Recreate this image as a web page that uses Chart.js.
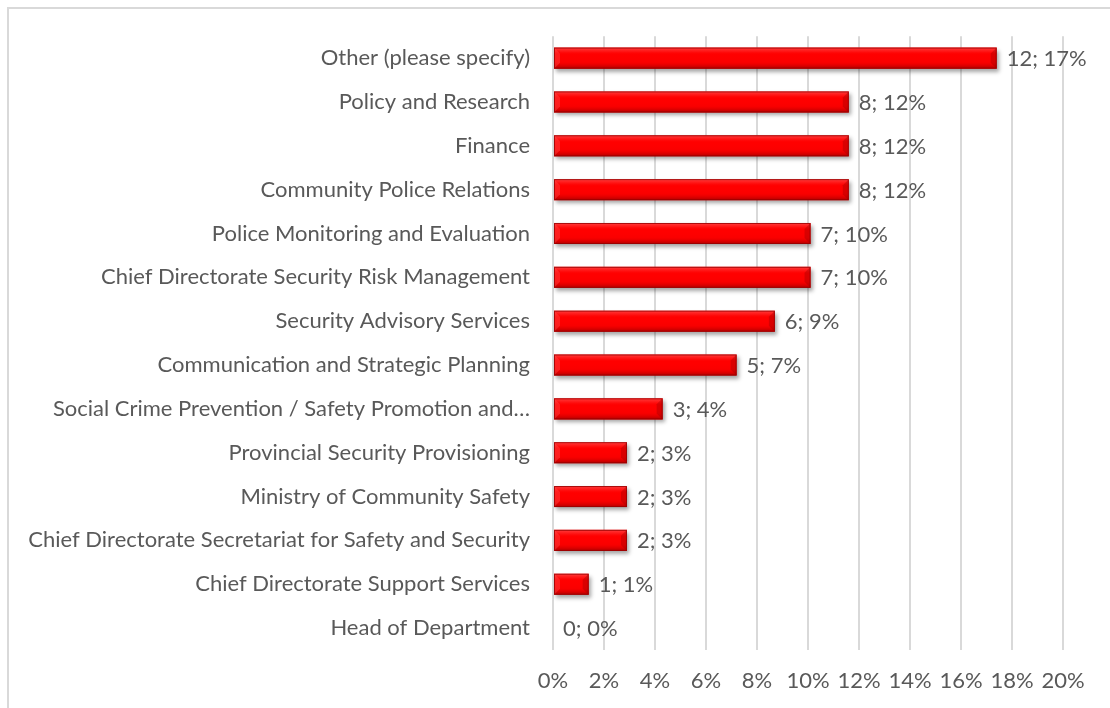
<!DOCTYPE html>
<html>
<head>
<meta charset="utf-8">
<script src="https://cdn.jsdelivr.net/npm/chart.js@4/dist/chart.umd.min.js"></script>
<style>
  html, body { margin: 0; padding: 0; background: #fff; overflow: hidden; }
  #wrap { position: relative; width: 1110px; height: 708px; }
  /* chart frame: only top and left edges fall inside the page */
  #frame { position: absolute; left: 7px; top: 7px; width: 1200px; height: 800px;
           border-top: 2px solid #d9d9d9; border-left: 2px solid #d9d9d9; }
  canvas { position: absolute; left: 0; top: 0; }
</style>
</head>
<body>
<div id="wrap">
  <div id="frame"></div>
  <canvas id="chart" width="1110" height="708"></canvas>
</div>
<script>
// Departments, top to bottom
const departments = [
  "Other (please specify)",
  "Policy and Research",
  "Finance",
  "Community Police Relations",
  "Police Monitoring and Evaluation",
  "Chief Directorate Security Risk Management",
  "Security Advisory Services",
  "Communication and Strategic Planning",
  "Social Crime Prevention / Safety Promotion and…",
  "Provincial Security Provisioning",
  "Ministry of Community Safety",
  "Chief Directorate Secretariat for Safety and Security",
  "Chief Directorate Support Services",
  "Head of Department"
];

// Number of respondents per department
const counts = [12, 8, 8, 8, 7, 7, 6, 5, 3, 2, 2, 2, 1, 0];

// Share of respondents (%)
const shares = [17.4, 11.6, 11.6, 11.6, 10.1, 10.1, 8.7, 7.2, 4.3, 2.9, 2.9, 2.9, 1.4, 0];

const xTicks = [0, 2, 4, 6, 8, 10, 12, 14, 16, 18, 20];

const FONT = "Lato, 'Open Sans', sans-serif";
const FONT_SIZE = 22;
const TEXT = "#595959";

// Glossy look for the bars: drop shadow under, highlight/shade gradient on top
const barShine = {
  id: "barShine",
  beforeDatasetsDraw(chart) {
    const c = chart.ctx;
    c.save();
    c.shadowColor = "rgba(0,0,0,0.35)";
    c.shadowBlur = 4;
    c.shadowOffsetX = 2;
    c.shadowOffsetY = 3;
  },
  afterDatasetsDraw(chart) {
    const c = chart.ctx;
    c.restore();
    const meta = chart.getDatasetMeta(0);
    meta.data.forEach((bar) => {
      const left = bar.base, right = bar.x;
      if (right - left < 1) return;
      const top = bar.y - bar.height / 2, bottom = bar.y + bar.height / 2;
      const g = c.createLinearGradient(0, top, 0, bottom);
      g.addColorStop(0, "rgba(255,120,120,0.55)");
      g.addColorStop(0.18, "rgba(255,60,60,0.35)");
      g.addColorStop(0.35, "rgba(255,0,0,0)");
      g.addColorStop(0.7, "rgba(200,0,0,0.1)");
      g.addColorStop(1, "rgba(110,0,0,0.55)");
      c.save();
      c.fillStyle = g;
      c.fillRect(left, top, right - left, bottom - top);
      // bevelled ends
      const b = Math.min(6, (right - left) / 3);
      c.fillStyle = "rgba(150,0,0,0.35)";
      c.beginPath();
      c.moveTo(right, top); c.lineTo(right, bottom); c.lineTo(right - b, bottom - b); c.lineTo(right - b, top + b);
      c.closePath(); c.fill();
      c.fillStyle = "rgba(255,90,90,0.35)";
      c.beginPath();
      c.moveTo(left, top); c.lineTo(left + b, top + b); c.lineTo(left + b, bottom - b); c.lineTo(left, bottom);
      c.closePath(); c.fill();
      c.strokeStyle = "rgba(150,0,0,0.8)";
      c.lineWidth = 1;
      c.strokeRect(left + 0.5, top + 0.5, right - left - 1, bottom - top - 1);
      c.restore();
    });
  }
};

// "count; share%" label after each bar
const valueLabels = {
  id: "valueLabels",
  afterDatasetsDraw(chart) {
    const c = chart.ctx;
    const meta = chart.getDatasetMeta(0);
    c.save();
    c.font = FONT_SIZE + "px " + FONT;
    c.fillStyle = TEXT;
    c.textAlign = "left";
    c.textBaseline = "middle";
    meta.data.forEach((bar, i) => {
      c.fillText(counts[i] + "; " + Math.round(shares[i]) + "%", bar.x + 10, bar.y + 1);
    });
    c.restore();
  }
};

new Chart(document.getElementById("chart"), {
  type: "bar",
  data: {
    labels: departments,
    datasets: [{
      data: shares,
      backgroundColor: "#ff0000",
      borderWidth: 0,
      barPercentage: 0.48,
      categoryPercentage: 1
    }]
  },
  options: {
    indexAxis: "y",
    responsive: false,
    animation: false,
    events: [],
    layout: { padding: { top: 36, right: 47, bottom: 8, left: 0 } },
    plugins: { legend: { display: false }, tooltip: { enabled: false } },
    scales: {
      x: {
        min: 0,
        max: 20,
        afterBuildTicks(scale) { scale.ticks = xTicks.map((v) => ({ value: v })); },
        afterFit(scale) { scale.height = 50; },
        grid: { color: "#d9d9d9", lineWidth: 2, drawTicks: false },
        border: { display: false },
        ticks: {
          padding: 18,
          color: TEXT,
          font: { family: FONT, size: FONT_SIZE },
          callback: (v) => v + "%"
        }
      },
      y: {
        afterFit(scale) { scale.width = 553; },
        grid: { display: false, drawTicks: false },
        border: { display: false },
        ticks: {
          padding: 23,
          color: TEXT,
          font: { family: FONT, size: FONT_SIZE },
          autoSkip: false
        }
      }
    }
  },
  plugins: [barShine, valueLabels]
});
</script>
</body>
</html>
